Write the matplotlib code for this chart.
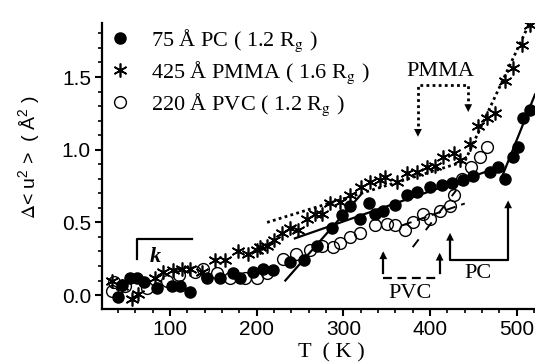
import numpy as np
import matplotlib
matplotlib.use("Agg")
import matplotlib.pyplot as plt
from matplotlib.ticker import MultipleLocator, FormatStrFormatter

plt.rcParams['mathtext.fontset'] = 'stix'
plt.rcParams['font.family'] = 'Liberation Sans'

# 75 A PC film (filled circles)
pc_T = [40, 45, 54, 62, 70, 85, 102, 112, 123, 143, 158, 173, 181, 196, 207,
        219, 238, 254, 269, 287, 298, 308, 319, 329, 336, 346, 360, 373, 385,
        400, 414, 425, 438, 450, 469, 478, 486, 496, 501, 507, 515]
pc_u = [-0.01, 0.07, 0.12, 0.12, 0.09, 0.05, 0.06, 0.06, 0.02, 0.12, 0.12, 0.15, 0.12, 0.16, 0.18,
        0.17, 0.23, 0.24, 0.34, 0.46, 0.55, 0.61, 0.52, 0.63, 0.56, 0.58, 0.62, 0.69, 0.71,
        0.74, 0.76, 0.77, 0.79, 0.82, 0.85, 0.88, 0.80, 0.95, 1.02, 1.22, 1.27]

# 425 A PMMA film (asterisks)
pmma_T = [33, 45, 56, 63, 83, 92, 104, 114, 123, 137, 152, 163, 178, 190, 200,
          204, 212, 220, 229, 238, 248, 258, 267, 275, 285, 296, 308, 320, 331,
          342, 348, 362, 373, 385, 396, 406, 415, 427, 434, 446, 455, 466, 475,
          486, 496, 506, 515]
pmma_u = [0.10, 0.06, -0.03, 0.01, 0.12, 0.16, 0.17, 0.18, 0.18, 0.16, 0.24, 0.24, 0.30, 0.28, 0.31,
          0.33, 0.34, 0.38, 0.43, 0.46, 0.45, 0.52, 0.56, 0.56, 0.63, 0.64, 0.69, 0.74, 0.78,
          0.79, 0.81, 0.78, 0.84, 0.85, 0.88, 0.89, 0.95, 0.98, 0.93, 1.04, 1.16, 1.22, 1.25,
          1.47, 1.56, 1.72, 1.86]

# 220 A PVC film (open circles)
pvc_T = [33, 35, 48, 73, 96, 110, 129, 138, 154, 169, 186, 200, 212, 230, 245,
         261, 275, 288, 296, 308, 319, 336, 350, 360, 371, 380, 392, 400, 411,
         423, 427, 437, 447, 457, 466]
pvc_u = [0.03, 0.09, 0.06, 0.05, 0.10, 0.14, 0.16, 0.18, 0.15, 0.12, 0.12, 0.12, 0.15, 0.25, 0.28,
         0.31, 0.34, 0.33, 0.36, 0.40, 0.43, 0.48, 0.49, 0.48, 0.45, 0.50, 0.56, 0.52, 0.58,
         0.61, 0.69, 0.80, 0.88, 0.95, 1.02]

# linear fits
pc_fit_a = ([233, 320], [0.10, 0.69])
pc_fit_b = ([244, 470], [0.39, 0.86])
pc_fit_c = ([482, 521], [0.80, 1.38])
pmma_fit = ([212, 440, 521], [0.50, 0.92, 1.95])
pvc_fit_a = ([368, 440], [0.48, 0.63])
pvc_fit_b = ([380, 430], [0.33, 0.72])

fig = plt.figure(figsize=(5.35, 3.64), dpi=100)
ax = fig.add_axes([0.1907, 0.151, 0.8093, 0.786])

for s in ['top', 'right']:
    ax.spines[s].set_visible(False)
for s in ['left', 'bottom']:
    ax.spines[s].set_linewidth(1.6)

ax.plot(*pc_fit_a, color='black', lw=1.6)
ax.plot(*pc_fit_b, color='black', lw=1.6)
ax.plot(*pc_fit_c, color='black', lw=1.6)
ax.plot(*pmma_fit, color='black', lw=2.0, ls=(0, (1, 1.2)))
ax.plot(*pvc_fit_a, color='black', lw=1.4, ls=(0, (5, 3)))
ax.plot(*pvc_fit_b, color='black', lw=1.4, ls=(0, (5, 6)))

pc, = ax.plot(pc_T, pc_u, 'o', ms=8, mfc='black', mec='black', ls='none')
pmma, = ax.plot(pmma_T, pmma_u, marker=(6, 2, 0), ms=10, mec='black', mew=1.2, ls='none')
pvc, = ax.plot(pvc_T, pvc_u, 'o', ms=8.5, mfc='none', mec='black', mew=1.0, ls='none')

ax.set_xlim(21.6, 521)
ax.set_ylim(-0.096, 1.872)
ax.xaxis.set_major_locator(MultipleLocator(100))
ax.xaxis.set_minor_locator(MultipleLocator(20))
ax.yaxis.set_major_locator(MultipleLocator(0.5))
ax.yaxis.set_minor_locator(MultipleLocator(0.1))
ax.yaxis.set_major_formatter(FormatStrFormatter('%.1f'))
ax.tick_params(which='major', length=5, width=1.5, labelsize=15, pad=3)
ax.tick_params(which='minor', length=3, width=1.2)

ax.set_ylabel(r'$\Delta$< u$\mathregular{^2}$ >  ( Å$\mathregular{^2}$ )', fontsize=14)
ax.yaxis.set_label_coords(-0.139, 0.53)
ax.text(286, -0.40, 'T  ( K )', family='Liberation Serif', fontsize=16,
        ha='center', va='center')

serif = dict(family='Liberation Serif', fontsize=16)
ax.legend(handles=[pc, pmma, pvc],
          labels=['75 Å PC ( 1.2 R$_\\mathrm{g}$ )',
                  '425 Å PMMA ( 1.6 R$_\\mathrm{g}$ )',
                  '220 Å PVC ( 1.2 R$_\\mathrm{g}$ )'],
          loc='upper left', bbox_to_anchor=(0.016, 0.985), frameon=False,
          prop={'family': 'Liberation Serif', 'size': 16},
          handlelength=1.0, handletextpad=0.9, labelspacing=0.25,
          borderpad=0, borderaxespad=0)

# PMMA transition markers
ax.text(412, 1.535, 'PMMA', ha='center', va='center', **serif)
ax.plot([386, 386, 444, 444], [1.12, 1.445, 1.445, 1.29], color='black', lw=2.0, ls=(0, (1, 1.2)))
for t, v in [(386, 1.07), (444, 1.24)]:
    ax.annotate('', xy=(t, v), xytext=(t, v + 0.1),
                arrowprops=dict(arrowstyle='-|>', color='black', lw=0, mutation_scale=14))

# PC transition markers
ax.plot([423, 423, 490, 490], [0.40, 0.24, 0.24, 0.62], color='black', lw=1.6)
for t, v in [(423, 0.447), (490, 0.67)]:
    ax.annotate('', xy=(t, v), xytext=(t, v - 0.1),
                arrowprops=dict(arrowstyle='-|>', color='black', lw=0, mutation_scale=14))
ax.text(455, 0.145, 'PC', ha='center', va='center', **serif)

# PVC transition markers
ax.plot([346, 346], [0.15, 0.28], color='black', lw=1.6)
ax.plot([411, 411], [0.15, 0.27], color='black', lw=1.6)
ax.plot([346, 411], [0.115, 0.115], color='black', lw=1.6, ls=(0, (4, 2.5)))
for t, v in [(346, 0.32), (411, 0.31)]:
    ax.annotate('', xy=(t, v), xytext=(t, v - 0.1),
                arrowprops=dict(arrowstyle='-|>', color='black', lw=0, mutation_scale=14))
ax.text(377, 0.014, 'PVC', ha='center', va='center', **serif)

# slope bracket
ax.plot([62, 62, 125], [0.25, 0.385, 0.385], color='black', lw=1.6)
ax.text(83, 0.26, 'k', family='Liberation Serif', fontsize=16, style='italic',
        weight='bold', ha='center', va='center')

fig.savefig('out.png', dpi=100)
